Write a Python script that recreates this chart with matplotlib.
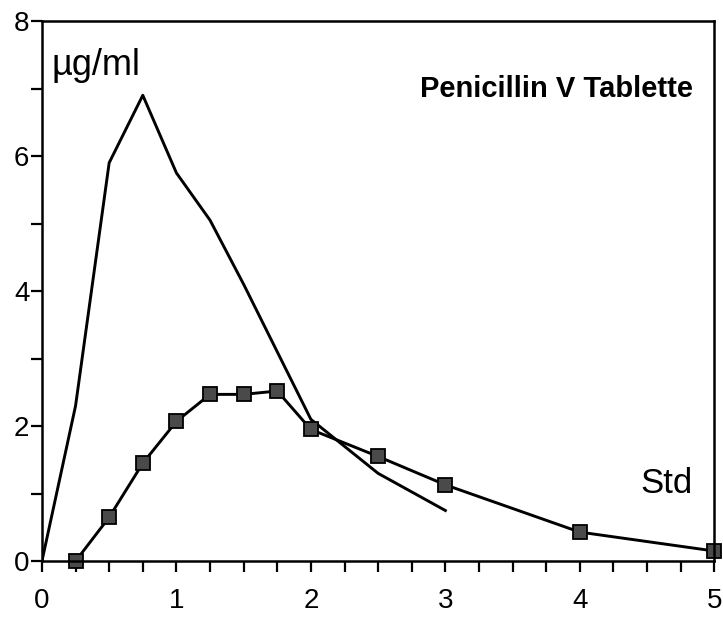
import matplotlib.pyplot as plt
from matplotlib.ticker import MultipleLocator

plt.rcParams['font.family'] = ['Liberation Sans', 'DejaVu Sans']

# Penicillin V Tablette (no markers)
pen_x = [0, 0.25, 0.5, 0.75, 1.0, 1.25, 1.5, 1.75, 2.0, 2.5, 3.0]
pen_y = [0, 2.3, 5.9, 6.9, 5.75, 5.05, 4.1, 3.1, 2.1, 1.3, 0.75]

# Std (square markers)
std_x = [0.25, 0.5, 0.75, 1.0, 1.25, 1.5, 1.75, 2.0, 2.5, 3.0, 4.0, 5.0]
std_y = [0.0, 0.65, 1.45, 2.07, 2.47, 2.47, 2.52, 1.95, 1.55, 1.13, 0.43, 0.15]

fig = plt.figure(figsize=(7.23, 6.18), dpi=100)
ax = fig.add_axes([0.058, 0.092, 0.930, 0.874])

ax.plot(pen_x, pen_y, color='black', linewidth=2.1)
ax.plot(std_x, std_y, color='black', linewidth=2.1, marker='s', markersize=10.5,
        markerfacecolor='#4a4a4a', markeredgecolor='black', markeredgewidth=1.3,
        clip_on=False)

ax.set_xlim(0, 5)
ax.set_ylim(0, 8)
ax.xaxis.set_major_locator(MultipleLocator(1))
ax.xaxis.set_minor_locator(MultipleLocator(0.25))
ax.yaxis.set_major_locator(MultipleLocator(2))
ax.yaxis.set_minor_locator(MultipleLocator(1))

ax.tick_params(axis='both', which='both', direction='out', length=8, width=1.6, color='black')
ax.tick_params(axis='x', which='major', labelsize=20, pad=11)
ax.tick_params(axis='y', which='major', labelsize=20, pad=1)
for s in ax.spines.values():
    s.set_linewidth(1.8)

ax.text(0.014, 0.95, 'µg/ml', transform=ax.transAxes, fontsize=26,
        ha='left', va='top')
ax.text(0.968, 0.9, 'Penicillin V Tablette', transform=ax.transAxes,
        fontsize=21, fontweight='bold', ha='right', va='top')
ax.text(0.968, 0.175, 'Std', transform=ax.transAxes, fontsize=25,
        ha='right', va='top')

plt.savefig('out.png', dpi=100)
